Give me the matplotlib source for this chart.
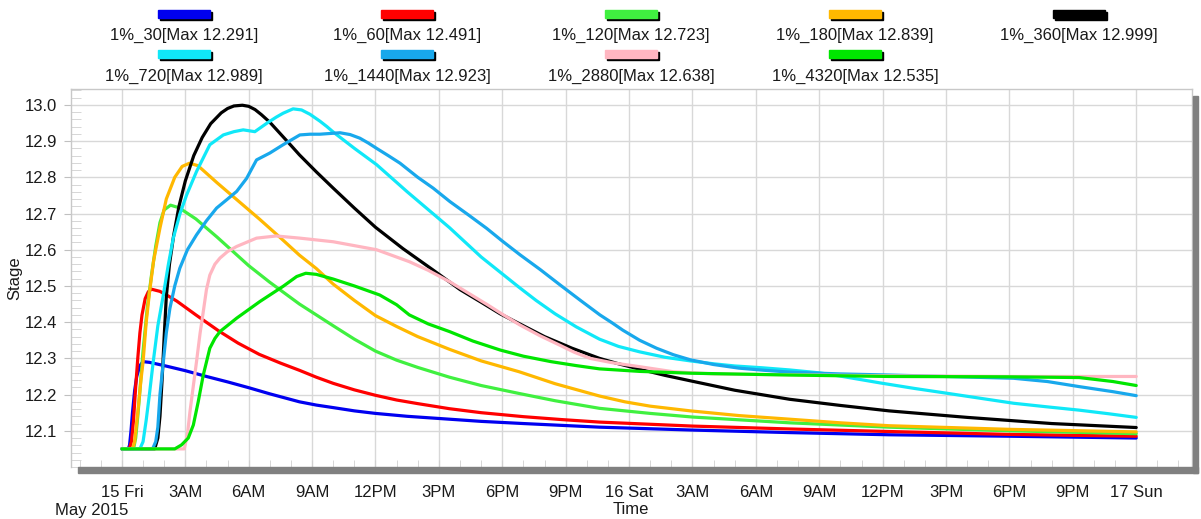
import matplotlib
matplotlib.use("Agg")
import matplotlib.pyplot as plt
from matplotlib.patches import Rectangle
from matplotlib.ticker import MultipleLocator

plt.rcParams['font.family'] = ['Liberation Sans', 'DejaVu Sans']

# hours since 15 May 2015 00:00 / stage
t30 = [0, 0.3, 0.36, 0.43, 0.5, 0.6, 0.7, 0.85, 1.0, 1.3, 2, 3, 4, 5, 6, 7, 8.4, 9.2, 10, 11, 12, 13.5, 15.5, 17, 19, 20.8,
       22.6, 27, 31.6, 36.3, 42, 48]
v30 = [12.05, 12.05, 12.06, 12.1, 12.15, 12.21, 12.25, 12.28, 12.291, 12.289, 12.28, 12.266, 12.25, 12.235, 12.219, 12.202,
       12.18, 12.171, 12.164, 12.155, 12.148, 12.14, 12.132, 12.126, 12.12, 12.115, 12.11, 12.102, 12.095, 12.089, 12.085,
       12.08]

t60 = [0, 0.35, 0.45, 0.55, 0.65, 0.75, 0.85, 0.95, 1.1, 1.25, 1.4, 1.8, 2.2, 2.6, 3.5, 4.6, 5.5, 6.5, 7.5, 8.4, 9.2, 10, 11,
       12, 13, 14, 15.5, 17, 19, 20.8, 22.6, 25, 27, 31.6, 36.3, 42, 48]
v60 = [12.05, 12.05, 12.07, 12.13, 12.22, 12.3, 12.37, 12.42, 12.465, 12.484, 12.491, 12.485, 12.472, 12.458, 12.42, 12.375,
       12.342, 12.311, 12.287, 12.267, 12.248, 12.231, 12.213, 12.198, 12.185, 12.175, 12.161, 12.15, 12.139, 12.131,
       12.124, 12.118, 12.113, 12.105, 12.098, 12.09, 12.085]

t120 = [0, 0.55, 0.65, 0.75, 0.85, 1.0, 1.2, 1.4, 1.6, 1.8, 2.0, 2.3, 2.7, 3.5, 4.5, 6, 7, 8.4, 9.2, 10, 11, 12, 13, 14,
        15.5, 17, 18.8, 20.5, 22.6, 23.8, 25, 27, 29.3, 31.6, 36.3, 42, 48]
v120 = [12.05, 12.05, 12.08, 12.14, 12.21, 12.32, 12.44, 12.53, 12.61, 12.675, 12.71, 12.723, 12.716, 12.685, 12.635,
        12.556, 12.51, 12.45, 12.42, 12.39, 12.353, 12.32, 12.295, 12.275, 12.248, 12.225, 12.203, 12.183, 12.162, 12.155,
        12.148, 12.138, 12.13, 12.122, 12.11, 12.1, 12.092]

t180 = [0, 0.5, 0.6, 0.75, 0.9, 1.0, 1.15, 1.3, 1.5, 1.8, 2.1, 2.5, 2.85, 3.2, 3.6, 4.5, 5.5, 6.5, 7.5, 8.4, 9.2, 10, 11,
        12, 13, 14, 15.5, 17, 18.8, 20.5, 22.6, 23.8, 25, 26.9, 29.2, 31.6, 34, 36.3, 42, 48]
v180 = [12.05, 12.05, 12.07, 12.15, 12.24, 12.29, 12.4, 12.48, 12.57, 12.66, 12.74, 12.8, 12.83, 12.839, 12.832, 12.785,
        12.735, 12.685, 12.633, 12.585, 12.548, 12.505, 12.46, 12.418, 12.388, 12.36, 12.325, 12.293, 12.263, 12.23,
        12.196, 12.18, 12.168, 12.155, 12.142, 12.132, 12.122, 12.114, 12.104, 12.097]

t360 = [0, 1.55, 1.7, 1.8, 1.9, 2.0, 2.1, 2.25, 2.45, 2.7, 3.0, 3.4, 3.8, 4.2, 4.7, 5.0, 5.3, 5.7, 6.0, 6.3, 6.6, 7.0, 7.5,
        8.0, 8.4, 9.2, 10, 11, 12, 13.3, 14.7, 16, 17, 17.9, 19, 20, 21.3, 22.6, 23.5, 24.5, 25.7, 26.9, 29, 31.6, 34,
        36.3, 40, 44, 48]
v360 = [12.05, 12.05, 12.08, 12.14, 12.24, 12.36, 12.47, 12.56, 12.64, 12.72, 12.79, 12.86, 12.91, 12.948, 12.978, 12.99,
        12.997, 12.999, 12.996, 12.987, 12.973, 12.952, 12.92, 12.888, 12.862, 12.815, 12.77, 12.715, 12.662, 12.603,
        12.545, 12.49, 12.455, 12.423, 12.39, 12.36, 12.328, 12.3, 12.285, 12.27, 12.253, 12.238, 12.212, 12.187, 12.17,
        12.155, 12.137, 12.12, 12.109]

t720 = [0, 0.85, 1.0, 1.15, 1.3, 1.48, 1.7, 1.96, 2.2, 2.43, 2.75, 3.06, 3.53, 4.16, 4.8, 5.3, 5.74, 6.29, 6.85, 7.3, 7.63,
        8.1, 8.5, 8.9, 9.37, 9.7, 10, 11, 12.05, 13.5, 15.5, 17, 18.8, 19.6, 20.5, 21.5, 22.6, 23.5, 24.5, 25.7, 26.9, 28,
        29, 30.3, 31.6, 33, 34, 35, 35.9, 37.5, 39, 40.6, 42.2, 43.8, 45.3, 46.7, 48]
v720 = [12.05, 12.05, 12.07, 12.13, 12.2, 12.29, 12.39, 12.475, 12.56, 12.632, 12.7, 12.751, 12.816, 12.89, 12.917, 12.926,
        12.931, 12.926, 12.949, 12.966, 12.977, 12.989, 12.986, 12.974, 12.955, 12.94, 12.925, 12.88, 12.835, 12.76, 12.661,
        12.58, 12.496, 12.46, 12.423, 12.387, 12.353, 12.333, 12.318, 12.303, 12.293, 12.285, 12.279, 12.274, 12.268,
        12.26, 12.251, 12.241, 12.232, 12.217, 12.204, 12.19, 12.176, 12.166, 12.157, 12.147, 12.137]

t1440 = [0, 1.45, 1.6, 1.7, 1.8, 1.96, 2.1, 2.27, 2.5, 2.74, 3.1, 3.53, 4.0, 4.48, 5.0, 5.43, 5.9, 6.37, 7.0, 7.63, 8.42,
         8.9, 9.37, 9.85, 10.32, 10.8, 11.26, 11.65, 12.05, 12.6, 13.16, 14, 14.73, 15.52, 16.4, 17.26, 18.0, 18.84, 19.8,
         20.73, 21.7, 22.62, 23.2, 23.7, 24.5, 25.3, 26.1, 26.9, 28, 29.2, 30.4, 31.6, 34, 36.3, 39, 42.2, 43.8, 45.3, 46.9,
         48]
v1440 = [12.05, 12.05, 12.07, 12.11, 12.2, 12.291, 12.37, 12.438, 12.5, 12.549, 12.6, 12.641, 12.68, 12.715, 12.74, 12.761,
         12.797, 12.848, 12.867, 12.89, 12.917, 12.919, 12.919, 12.921, 12.923, 12.918, 12.908, 12.895, 12.88, 12.86,
         12.839, 12.8, 12.77, 12.733, 12.696, 12.659, 12.624, 12.586, 12.545, 12.503, 12.46, 12.42, 12.398, 12.378, 12.35,
         12.328, 12.31, 12.296, 12.283, 12.273, 12.267, 12.262, 12.257, 12.254, 12.25, 12.245, 12.236, 12.222, 12.208,
         12.197]

t2880 = [0, 2.95, 3.1, 3.22, 3.37, 3.53, 3.7, 3.85, 4.0, 4.16, 4.4, 4.64, 5.0, 5.43, 6.37, 7.3, 8.42, 10.0, 12.05, 13.6,
         14.5, 15.5, 16.4, 17.3, 18.0, 18.84, 19.8, 20.7, 21.4, 22.15, 23.2, 24.5, 26.1, 28, 31, 36, 42, 48]
v2880 = [12.05, 12.05, 12.09, 12.153, 12.22, 12.291, 12.37, 12.429, 12.49, 12.53, 12.56, 12.577, 12.595, 12.609, 12.632,
         12.638, 12.632, 12.622, 12.6, 12.567, 12.543, 12.512, 12.48, 12.448, 12.422, 12.392, 12.362, 12.337, 12.317, 12.3,
         12.288, 12.277, 12.263, 12.257, 12.255, 12.252, 12.25, 12.25]

t4320 = [0, 2.5, 2.82, 3.14, 3.38, 3.61, 3.85, 4.16, 4.4, 4.64, 5.43, 6.53, 7.63, 8.27, 8.7, 9.2, 10.0, 11.0, 12.2, 13.0,
         13.6, 14.5, 15.5, 16.6, 17.9, 19, 20.3, 21.5, 22.6, 24.5, 26.9, 31.6, 36.3, 42, 45.3, 46.9, 48]
v4320 = [12.05, 12.05, 12.061, 12.08, 12.116, 12.18, 12.254, 12.328, 12.355, 12.374, 12.411, 12.457, 12.499, 12.526,
         12.535, 12.532, 12.519, 12.5, 12.475, 12.448, 12.42, 12.395, 12.374, 12.348, 12.323, 12.306, 12.291, 12.28,
         12.271, 12.264, 12.259, 12.254, 12.25, 12.249, 12.247, 12.236, 12.225]

names = ["1%_30", "1%_60", "1%_120", "1%_180", "1%_360", "1%_720", "1%_1440", "1%_2880", "1%_4320"]
colors = ["#0000f0", "#ff0000", "#40f040", "#ffb800", "#000000", "#10e8f8", "#18a8ec", "#ffb6c1", "#00e600"]
series = [(t30, v30), (t60, v60), (t120, v120), (t180, v180), (t360, v360),
          (t720, v720), (t1440, v1440), (t2880, v2880), (t4320, v4320)]

xtick_hours = list(range(0, 49, 3))
xtick_labels = ["15 Fri", "3AM", "6AM", "9AM", "12PM", "3PM", "6PM", "9PM",
                "16 Sat", "3AM", "6AM", "9AM", "12PM", "3PM", "6PM", "9PM", "17 Sun"]

W, H = 1201, 519
txt = "#1a1a1a"


def fx(px):
    return px / W


def fy(py):
    return 1 - py / H


fig = plt.figure(figsize=(W / 100, H / 100), dpi=100)
fig.patch.set_facecolor("white")
ax = fig.add_axes([fx(71), fy(467), fx(1192) - fx(71), fy(89.3) - fy(467)])

for (t, v), c in zip(series, colors):
    ax.plot(t, v, color=c, lw=2.3, solid_joinstyle="round", solid_capstyle="round")

ax.set_xlim(-2.41, 50.64)
ax.set_ylim(12.0, 13.043)
ax.set_xticks(xtick_hours)
ax.set_xticklabels(xtick_labels)
ax.xaxis.set_minor_locator(MultipleLocator(1))
ax.set_yticks([12.1 + 0.1 * i for i in range(10)])
ax.set_yticklabels([f"{12.1 + 0.1 * i:.1f}" for i in range(10)])
ax.yaxis.set_minor_locator(MultipleLocator(0.02))

ax.grid(True, which="major", color="#d8d8d8", lw=1)
ax.set_axisbelow(True)
ax.tick_params(axis="x", which="both", direction="in", length=5, color="#d0d0d0", pad=13,
               labelsize=12, labelcolor=txt)
ax.tick_params(axis="y", which="major", direction="out", length=5, color="#c0c0c0", pad=5,
               labelsize=12, labelcolor=txt)
ax.tick_params(axis="y", which="minor", direction="in", length=7, color="#d0d0d0")
for side in ["left", "top", "right"]:
    ax.spines[side].set_color("#c8c8c8")
    ax.spines[side].set_linewidth(1)
ax.spines["bottom"].set_visible(False)

# grey drop shadow on the bottom and right of the plot frame
fig.patches.append(Rectangle((fx(78), fy(473)), fx(1198) - fx(78), fy(467) - fy(473),
                             transform=fig.transFigure, color="#808080", zorder=3))
fig.patches.append(Rectangle((fx(1193), fy(473)), fx(1198) - fx(1193), fy(96) - fy(473),
                             transform=fig.transFigure, color="#808080", zorder=3))

fig.text(fx(15), fy(278), "Stage", rotation=90, ha="center", va="center", fontsize=12, color=txt)
fig.text(fx(92), fy(510), "May 2015", ha="center", va="center", fontsize=12, color=txt)
fig.text(fx(631), fy(510), "Time", ha="center", va="center", fontsize=12, color=txt)

# legend: swatch with a black shadow above each label
col_x = [184, 407, 631, 855, 1079]
rows = [(14, 35), (54, 76)]
for i, (name, c, (t, v)) in enumerate(zip(names, colors, series)):
    cx = col_x[i % 5]
    sy, ty = rows[i // 5]
    sw, sh = 52, 8
    fig.patches.append(Rectangle((fx(cx - sw / 2 + 2), fy(sy + sh / 2 + 2)), sw / W, sh / H,
                                 transform=fig.transFigure, color="black", zorder=3))
    fig.patches.append(Rectangle((fx(cx - sw / 2), fy(sy + sh / 2)), sw / W, sh / H,
                                 transform=fig.transFigure, color=c, zorder=4))
    fig.text(fx(cx), fy(ty), f"{name}[Max {max(v):.3f}]", ha="center", va="center",
             fontsize=12, color=txt)

fig.savefig("out.png", dpi=100)
